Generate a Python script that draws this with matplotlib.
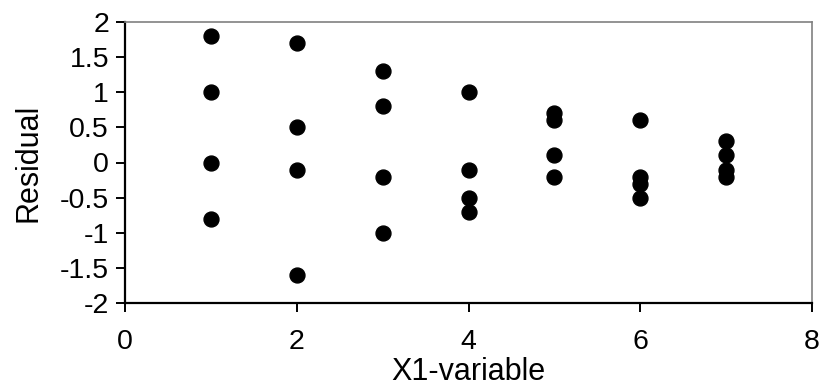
import matplotlib
matplotlib.use("Agg")
import matplotlib.pyplot as plt

plt.rcParams['font.family'] = ['Liberation Sans', 'DejaVu Sans']

# residuals per X1 value
x_vals = [1, 1, 1, 1,
          2, 2, 2, 2,
          3, 3, 3, 3,
          4, 4, 4, 4,
          5, 5, 5, 5,
          6, 6, 6, 6,
          7, 7, 7, 7]
residuals = [1.8, 1.0, 0.0, -0.8,
             1.7, 0.5, -0.1, -1.6,
             1.3, 0.8, -0.2, -1.0,
             1.0, -0.1, -0.5, -0.7,
             0.7, 0.6, 0.1, -0.2,
             0.6, -0.2, -0.3, -0.5,
             0.3, 0.1, -0.1, -0.2]

x_ticks = [0, 2, 4, 6, 8]
y_ticks = [2, 1.5, 1, 0.5, 0, -0.5, -1, -1.5, -2]
y_labels = ['2', '1.5', '1', '0.5', '0', '-0.5', '-1', '-1.5', '-2']

fig = plt.figure(figsize=(8.21, 3.89), dpi=100)
ax = fig.add_axes([125 / 821, 1 - 303 / 389, (812 - 125) / 821, (303 - 22) / 389])

ax.scatter(x_vals, residuals, s=115, color='black', zorder=3, clip_on=False)

ax.set_xlim(0, 8)
ax.set_ylim(-2, 2)
ax.set_xticks(x_ticks)
ax.set_yticks(y_ticks)
ax.set_yticklabels(y_labels)

for side in ['left', 'bottom']:
    ax.spines[side].set_color('black')
    ax.spines[side].set_linewidth(1.6)
for side in ['top', 'right']:
    ax.spines[side].set_color('#808080')
    ax.spines[side].set_linewidth(1.2)

ax.tick_params(axis='both', direction='out', length=6.5, width=1.4,
               labelsize=20.5, colors='black')
ax.tick_params(axis='x', pad=12)
ax.tick_params(axis='y', pad=5)

ax.set_xlabel('X1-variable', fontsize=22, labelpad=2)
ax.set_ylabel('Residual', fontsize=22, labelpad=12)

fig.savefig('out.png', dpi=100)
